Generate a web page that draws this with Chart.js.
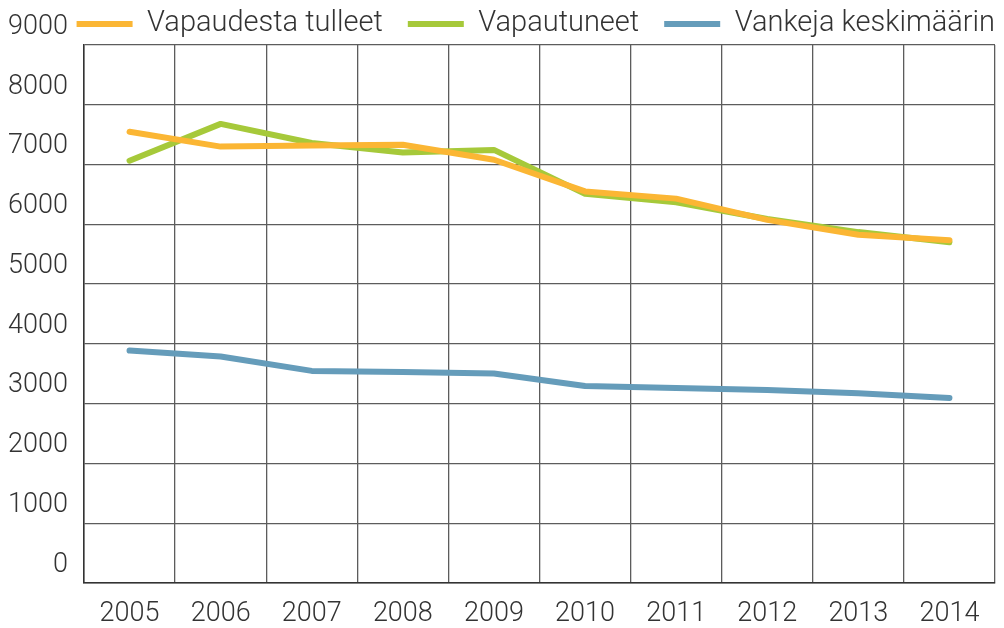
<!DOCTYPE html>
<html>
<head>
<meta charset="utf-8">
<script src="https://cdn.jsdelivr.net/npm/chart.js@4.4.0/dist/chart.umd.min.js"></script>
<style>
html,body{margin:0;padding:0;background:#fff;}
#wrap{width:1004px;height:628px;position:relative;}
</style>
</head>
<body>
<div id="wrap"><canvas id="c" width="1004" height="628"></canvas></div>
<script>
const years = ['2005','2006','2007','2008','2009','2010','2011','2012','2013','2014'];
const vapaudestaTulleet = [7550, 7300, 7320, 7330, 7080, 6550, 6430, 6075, 5825, 5735];
const vapautuneet = [7065, 7680, 7360, 7200, 7245, 6510, 6370, 6090, 5870, 5700];
const vankejaKeskimaarin = [3888, 3788, 3548, 3530, 3505, 3295, 3262, 3230, 3175, 3096];
const yTicks = [0, 1000, 2000, 3000, 4000, 5000, 6000, 7000, 8000, 9000];

const FONT = 'Roboto';
const TXT = '#333333';
const GRID = '#5c5c5c';
const LEGEND_PAD = 25;
const LEGEND_FONT = 29;

function ds(label, data, color){
  return {label, data, borderColor: color, backgroundColor: color, borderWidth: 6,
    pointRadius: 0, pointHoverRadius: 0, tension: 0, borderCapStyle: 'round', borderJoinStyle: 'round', fill: false};
}

const legendPlace = {
  id: 'legendPlace',
  afterLayout(chart){
    const lg = chart.legend;
    if (lg) {
      lg.right = chart.chartArea.right + LEGEND_PAD;
      lg.top = 24 - LEGEND_FONT / 2 - LEGEND_PAD;
    }
  }
};

new Chart(document.getElementById('c'), {
  type: 'line',
  data: {
    labels: years,
    datasets: [
      ds('Vapaudesta tulleet', vapaudestaTulleet, '#fbb634'),
      ds('Vapautuneet', vapautuneet, '#a6c93a'),
      ds('Vankeja keskimäärin', vankejaKeskimaarin, '#659cba')
    ]
  },
  plugins: [legendPlace],
  options: {
    responsive: false,
    animation: false,
    devicePixelRatio: 1,
    layout: {padding: {top: 1, right: 9, left: 0, bottom: 0}},
    plugins: {
      tooltip: {enabled: false},
      legend: {
        display: true,
        position: 'top',
        align: 'end',
        maxHeight: 44,
        labels: {
          usePointStyle: true,
          pointStyle: 'line',
          pointStyleWidth: 56,
          boxWidth: 56,
          padding: LEGEND_PAD,
          color: TXT,
          font: {family: FONT, size: LEGEND_FONT, weight: 300}
        }
      }
    },
    scales: {
      x: {
        type: 'category',
        offset: true,
        grid: {display: true, offset: true, color: GRID, lineWidth: 1.3, drawTicks: false},
        border: {display: true, color: '#333', width: 1.5},
        ticks: {color: TXT, padding: 15, maxRotation: 0, font: {family: FONT, size: 27, weight: 300}},
        afterFit: s => { s.height = 45; }
      },
      y: {
        min: 0, max: 9000,
        afterBuildTicks: s => { s.ticks = yTicks.map(v => ({value: v})); },
        grid: {color: GRID, lineWidth: 1.3, drawTicks: false},
        border: {display: true, color: '#333', width: 1.5},
        ticks: {color: TXT, padding: 16, labelOffset: -18, callback: v => String(v), font: {family: FONT, size: 27, weight: 300}},
        afterFit: s => { s.width = 84; }
      }
    }
  }
});
</script>
</body>
</html>
